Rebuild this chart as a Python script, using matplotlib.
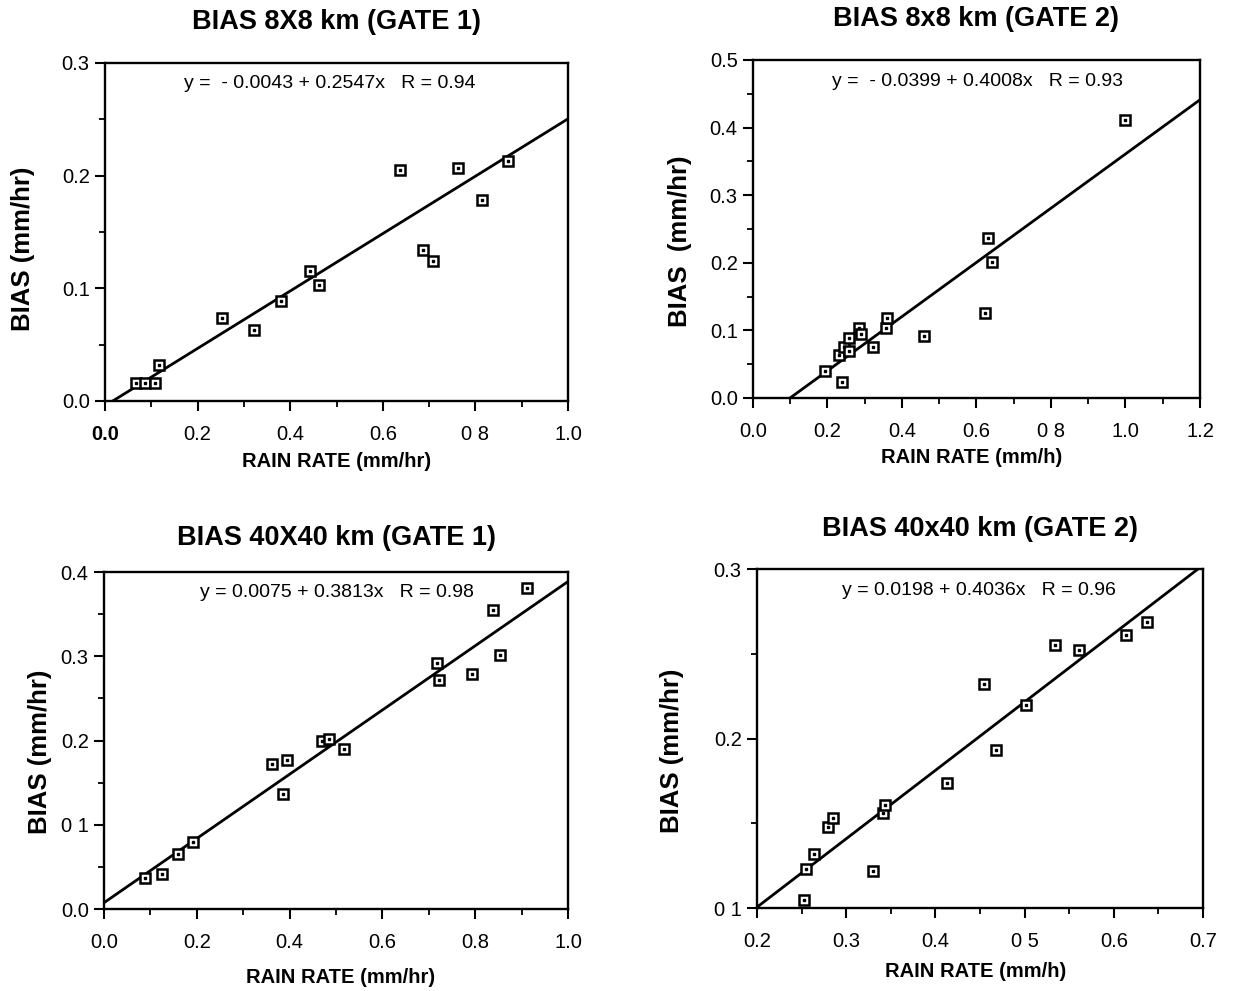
import matplotlib
matplotlib.use("Agg")
from matplotlib import pyplot as plt              # import plotting funcs
from matplotlib.ticker import MultipleLocator

plt.rcParams['font.family'] = ['Liberation Sans', 'DejaVu Sans']

##### Data
# BIAS 8X8 km (GATE 1)
rain_8_g1 = [0.066, 0.087, 0.108, 0.117, 0.253, 0.321, 0.380, 0.443, 0.463,
             0.638, 0.687, 0.709, 0.762, 0.814, 0.870]
bias_8_g1 = [0.016, 0.016, 0.016, 0.032, 0.074, 0.063, 0.089, 0.115, 0.103,
             0.205, 0.134, 0.124, 0.207, 0.178, 0.213]
fit_8_g1 = (-0.0043, 0.2547)

# BIAS 8x8 km (GATE 2)
rain_8_g2 = [0.193, 0.240, 0.230, 0.244, 0.257, 0.257, 0.284, 0.290, 0.321,
             0.356, 0.361, 0.459, 0.624, 0.632, 0.642, 1.000]
bias_8_g2 = [0.040, 0.024, 0.063, 0.076, 0.088, 0.069, 0.104, 0.094, 0.075,
             0.104, 0.118, 0.091, 0.126, 0.236, 0.201, 0.411]
fit_8_g2 = (-0.0399, 0.4008)

# BIAS 40X40 km (GATE 1)
rain_40_g1 = [0.088, 0.124, 0.160, 0.192, 0.362, 0.394, 0.385, 0.469, 0.484,
              0.517, 0.717, 0.721, 0.794, 0.839, 0.854, 0.912]
bias_40_g1 = [0.037, 0.042, 0.065, 0.080, 0.172, 0.177, 0.137, 0.200, 0.202,
              0.190, 0.292, 0.272, 0.279, 0.355, 0.302, 0.381]
fit_40_g1 = (0.0075, 0.3813)

# BIAS 40x40 km (GATE 2)
rain_40_g2 = [0.253, 0.255, 0.264, 0.280, 0.285, 0.330, 0.341, 0.344, 0.413,
              0.454, 0.468, 0.502, 0.534, 0.561, 0.614, 0.637]
bias_40_g2 = [0.105, 0.123, 0.132, 0.148, 0.153, 0.122, 0.156, 0.161, 0.174,
              0.232, 0.193, 0.220, 0.255, 0.252, 0.261, 0.269]
fit_40_g2 = (0.0198, 0.4036)

titles = ["BIAS 8X8 km (GATE 1)", "BIAS 8x8 km (GATE 2)",
          "BIAS 40X40 km (GATE 1)", "BIAS 40x40 km (GATE 2)"]
equations = ["y =  - 0.0043 + 0.2547x   R = 0.94",
             "y =  - 0.0399 + 0.4008x   R = 0.93",
             "y = 0.0075 + 0.3813x   R = 0.98",
             "y = 0.0198 + 0.4036x   R = 0.96"]
xlabels = ["RAIN RATE (mm/hr)", "RAIN RATE (mm/h)",
           "RAIN RATE (mm/hr)", "RAIN RATE (mm/h)"]
ylabels = ["BIAS (mm/hr)", "BIAS  (mm/hr)", "BIAS (mm/hr)", "BIAS (mm/hr)"]

# tick labels as printed (some decimal points lost in the scan)
xt_8_g1 = ["0.0", "0.2", "0.4", "0.6", "0 8", "1.0"]
yt_8_g1 = ["0.0", "0.1", "0.2", "0.3"]
xt_8_g2 = ["0.0", "0.2", "0.4", "0.6", "0 8", "1.0", "1.2"]
yt_8_g2 = ["0.0", "0.1", "0.2", "0.3", "0.4", "0.5"]
xt_40_g1 = ["0.0", "0.2", "0.4", "0.6", "0.8", "1.0"]
yt_40_g1 = ["0.0", "0 1", "0.2", "0.3", "0.4"]
xt_40_g2 = ["0.2", "0.3", "0.4", "0 5", "0.6", "0.7"]
yt_40_g2 = ["0 1", "0.2", "0.3"]


def panel(rect, x, y, fit, xlim, ylim, xstep, ystep, xt, yt, title, title_y,
          eq, eqpos, xlab, xlab_pos, ylab, ylab_pos):
    ax = fig.add_axes(rect)
    xs = [xlim[0], xlim[1]]
    ax.plot(xs, [fit[0] + fit[1] * v for v in xs], color='black', lw=2.0)   # fit line
    ax.plot(x, y, 's', ms=7.5, mfc='white', mec='black', mew=1.8)           # open squares
    ax.plot(x, y, 's', ms=1.6, color='black')                              # dot inside
    ax.set_xlim(xlim)
    ax.set_ylim(ylim)
    ax.set_xticks([xlim[0] + i * xstep for i in range(len(xt))])
    ax.set_xticklabels(xt)
    ax.set_yticks([ylim[0] + i * ystep for i in range(len(yt))])
    ax.set_yticklabels(yt)
    ax.xaxis.set_minor_locator(MultipleLocator(xstep / 2))
    ax.yaxis.set_minor_locator(MultipleLocator(ystep / 2))
    ax.tick_params(which='major', direction='out', length=7, width=1.5, labelsize=14.5)
    ax.tick_params(which='minor', direction='out', length=4, width=1.3)
    ax.tick_params(axis='x', which='major', pad=10)
    ax.tick_params(axis='y', which='major', pad=4)
    for s in ax.spines.values():
        s.set_linewidth(1.7)
    ax.set_title(title, fontsize=19.5, fontweight='bold', y=title_y, pad=0)
    ax.set_xlabel(xlab, fontsize=14.5, fontweight='bold', va='top')
    ax.xaxis.set_label_coords(xlab_pos[0], xlab_pos[1])
    ax.set_ylabel(ylab, fontsize=18.5, fontweight='bold')
    ax.yaxis.set_label_coords(ylab_pos[0], ylab_pos[1])
    ax.text(eqpos[0], eqpos[1], eq, transform=ax.transAxes, fontsize=14,
            ha='left', va='center')
    return ax


fig = plt.figure(figsize=(12.44, 9.91), dpi=100)                 # create a new figure

ax1 = panel([0.0844, 0.5954, 0.3722, 0.3411], rain_8_g1, bias_8_g1, fit_8_g1,
            (0.0, 1.0), (0.0, 0.3), 0.2, 0.1, xt_8_g1, yt_8_g1, titles[0], 1.10,
            equations[0], (0.17, 0.94), xlabels[0], (0.50, -0.15),
            ylabels[0], (-0.151, 0.45))
ax1.get_xticklabels()[0].set_fontweight('bold')

ax2 = panel([0.6053, 0.5984, 0.3593, 0.3411], rain_8_g2, bias_8_g2, fit_8_g2,
            (0.0, 1.2), (0.0, 0.5), 0.2, 0.1, xt_8_g2, yt_8_g2, titles[1], 1.10,
            equations[1], (0.177, 0.935), xlabels[1], (0.49, -0.148),
            ylabels[1], (-0.136, 0.464))

ax3 = panel([0.0836, 0.0827, 0.3730, 0.3400], rain_40_g1, bias_40_g1, fit_40_g1,
            (0.0, 1.0), (0.0, 0.4), 0.2, 0.1, xt_40_g1, yt_40_g1, titles[2], 1.08,
            equations[2], (0.207, 0.94), xlabels[2], (0.51, -0.175),
            ylabels[2], (-0.112, 0.466))

ax4 = panel([0.6085, 0.0837, 0.3585, 0.3420], rain_40_g2, bias_40_g2, fit_40_g2,
            (0.2, 0.7), (0.1, 0.3), 0.1, 0.1, xt_40_g2, yt_40_g2, titles[3], 1.097,
            equations[3], (0.19, 0.938), xlabels[3], (0.49, -0.159),
            ylabels[3], (-0.164, 0.463))

plt.savefig('out.png', dpi=100)                                   # save figure
